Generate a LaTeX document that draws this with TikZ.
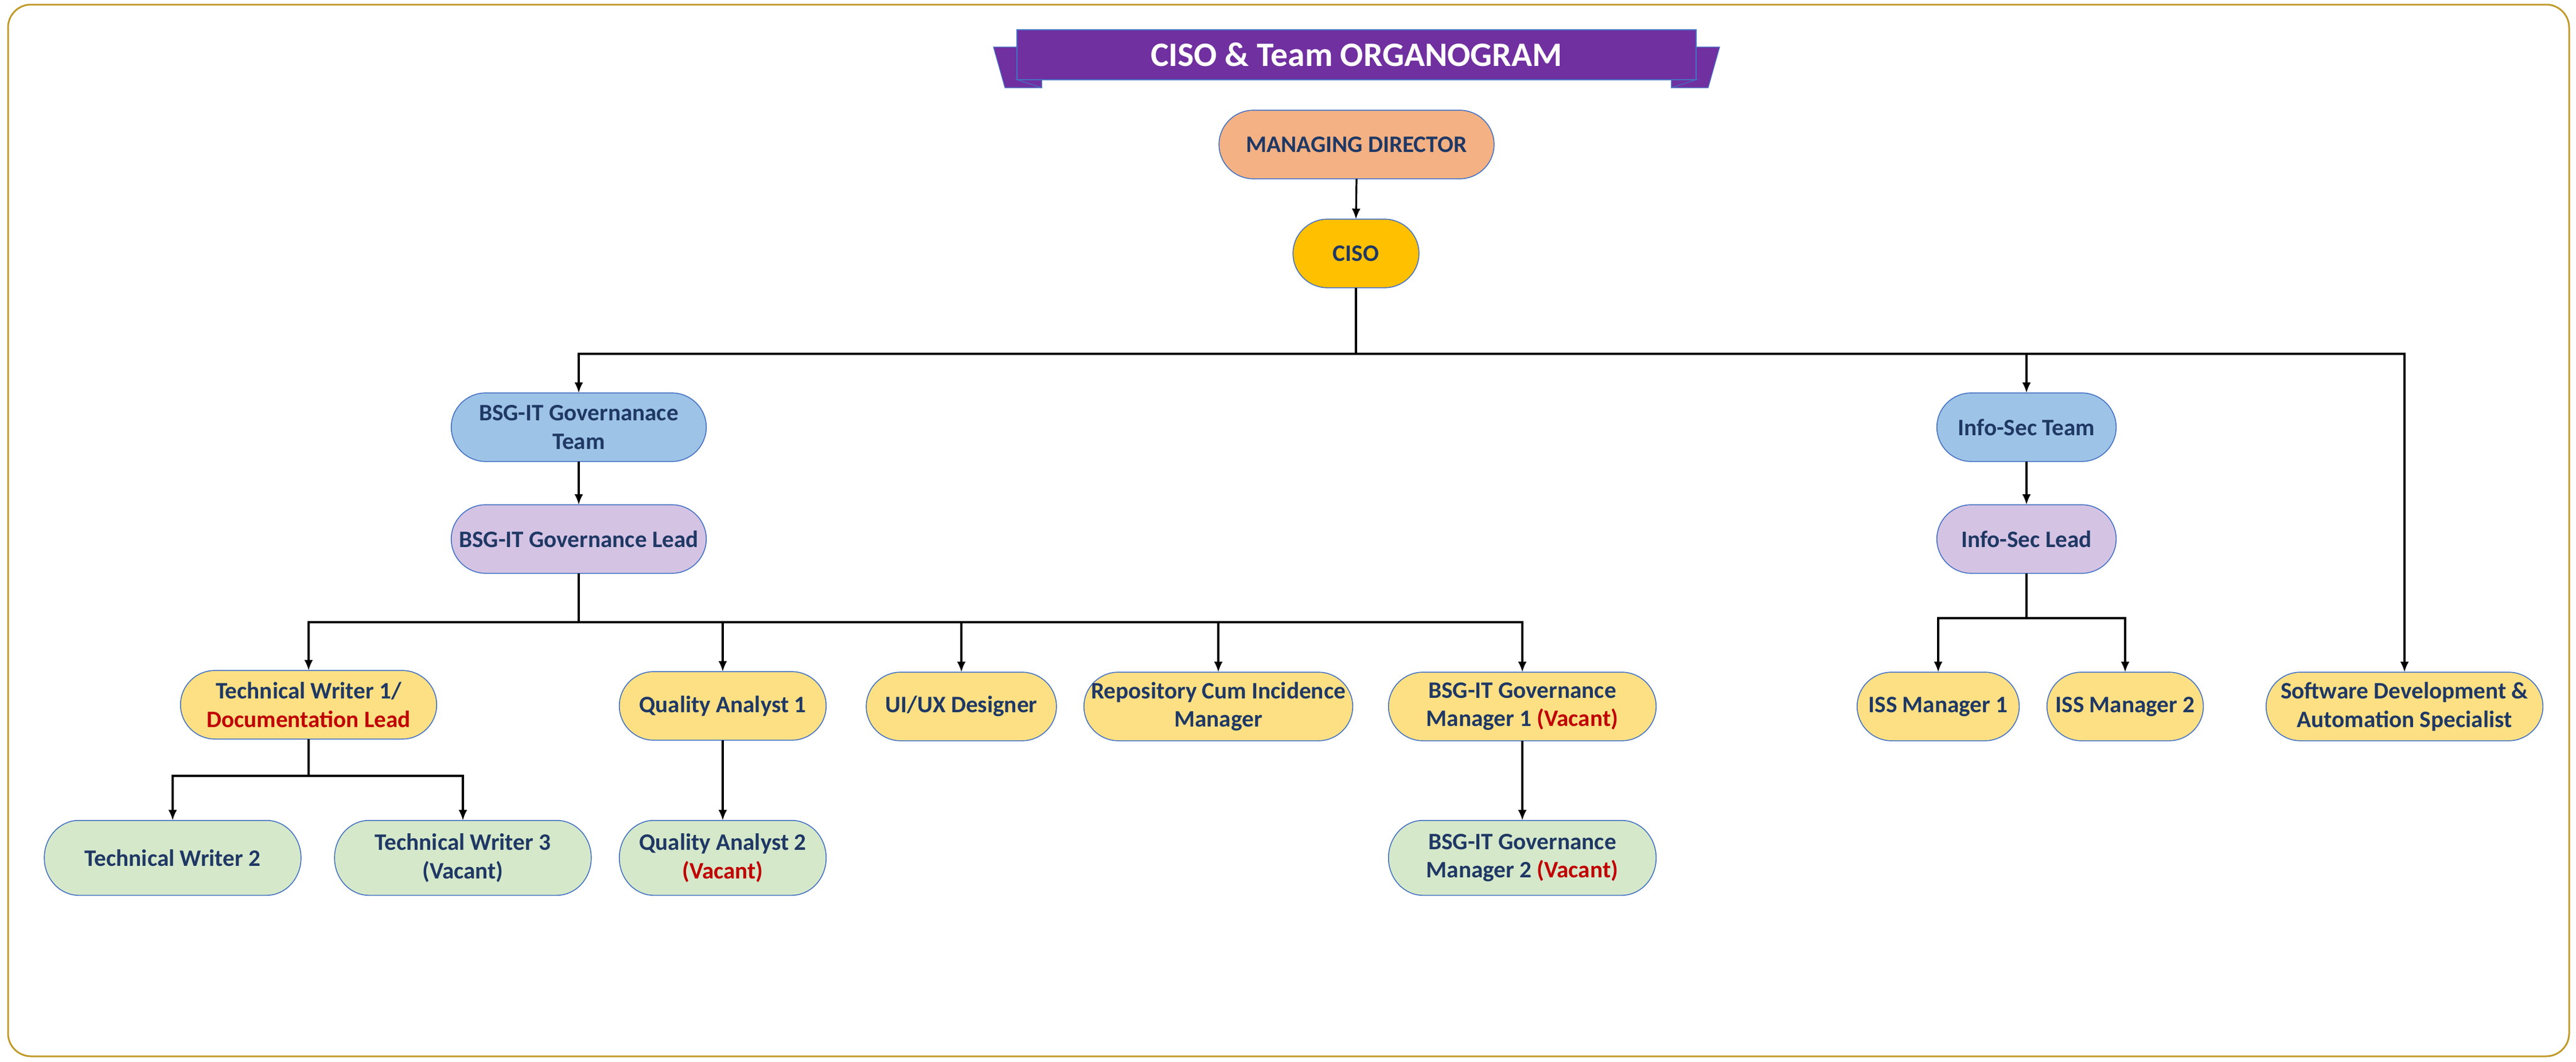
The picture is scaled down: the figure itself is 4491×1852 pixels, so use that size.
\documentclass[tikz,border=0pt]{standalone}
\usepackage{fontspec}
\setmainfont{Carlito}
\usetikzlibrary{calc,arrows.meta}
\definecolor{navy}{HTML}{1F3864}
\definecolor{vred}{HTML}{C00000}
\definecolor{pillborder}{HTML}{4472C4}
\definecolor{framegold}{HTML}{C09A2A}
\definecolor{bannerpurple}{HTML}{7030A0}
\definecolor{mdfill}{HTML}{F4B183}
\definecolor{cisofill}{HTML}{FFC000}
\definecolor{teamfill}{HTML}{9DC3E6}
\definecolor{leadfill}{HTML}{D5C3E4}
\definecolor{yelfill}{HTML}{FDE084}
\definecolor{grnfill}{HTML}{D5E8CA}
\pgfdeclarelayer{background}
\pgfsetlayers{background,main}
\newcommand\pill[2]{%
\begin{pgfonlayer}{background}
\path[draw=pillborder, line width=0.4pt, fill=#2]
 let \p1=(#1.north west), \p2=(#1.south east), \n1={0.5*(\y1-\y2)} in
 (\x1+15pt,\y1) -- (\x2-15pt,\y1)
 arc[start angle=90, end angle=-90, x radius=15pt, y radius=\n1]
 -- (\x1+15pt,\y2)
 arc[start angle=270, end angle=90, x radius=15pt, y radius=\n1] -- cycle;
\end{pgfonlayer}}
\tikzset{
 box/.style={inner sep=0pt, minimum width=#1, minimum height=29.5pt, align=center,
   text=navy, font=\fontsize{10.3}{12.4}\selectfont\bfseries},
 lowbox/.style={box=#1, minimum height=32.25pt},
 conn/.style={line width=0.8pt, black},
 arr/.style={conn, -{Latex[length=4.6pt,width=3.8pt]}},
}
\begin{document}
\begin{tikzpicture}[x=0.25pt,y=-0.25pt]
\useasboundingbox (0,0) rectangle (4491,1852);
% frame
\draw[framegold, line width=0.75pt, rounded corners=10pt] (14,8) rectangle (4479,1842);
% banner
\path[fill=bannerpurple, draw=pillborder, line width=0.3pt] (1732,82) -- (1816,82) -- (1816,153) -- (1752,153) -- cycle;
\path[fill=bannerpurple, draw=pillborder, line width=0.3pt] (2998,82) -- (2914,82) -- (2914,153) -- (2978,153) -- cycle;
\path[fill=bannerpurple, draw=pillborder, line width=0.3pt] (1773,139) -- (1816,153) -- (1816,139) -- cycle;
\path[fill=bannerpurple, draw=pillborder, line width=0.3pt] (2957,139) -- (2914,153) -- (2914,139) -- cycle;
\node[fill=bannerpurple, draw=pillborder, line width=0.3pt, minimum width=296pt, minimum height=21.75pt, inner sep=0pt,
  text=white, font=\fontsize{14.9}{17}\selectfont\bfseries] (title) at (2365,95.5) {CISO \& Team ORGANOGRAM};
% nodes
\node[box=119.5pt] (md) at (2365,252) {MANAGING DIRECTOR};
\node[box=54.5pt] (ciso) at (2364,442) {CISO};
\node[box=110.75pt] (bsgteam) at (1009,745) {BSG-IT Governanace\\Team};
\node[box=110.75pt] (bsglead) at (1009,940) {BSG-IT Governance Lead};
\node[box=77.75pt] (infoteam) at (3533,745) {Info-Sec Team};
\node[box=77.75pt] (infolead) at (3533,940) {Info-Sec Lead};
\node[box=111.25pt] (tw1) at (538,1229) {Technical Writer 1/\\\textcolor{vred}{Documentation Lead}};
\node[box=89.75pt] (qa1) at (1260,1231) {Quality Analyst 1};
\node[box=82.5pt] (uiux) at (1676,1232) {UI/UX Designer};
\node[box=116.75pt] (repo) at (2124,1232) {Repository Cum Incidence\\Manager};
\node[box=116.25pt] (mgr1) at (2654,1232) {BSG-IT Governance\\Manager 1 \textcolor{vred}{(Vacant)}};
\node[box=70.25pt] (iss1) at (3379,1232) {ISS Manager 1};
\node[box=67.75pt] (iss2) at (3705,1232) {ISS Manager 2};
\node[box=120.25pt] (sw) at (4192,1232) {Software Development \&\\Automation Specialist};
\node[lowbox=111.5pt] (tw2) at (301,1496) {Technical Writer 2};
\node[lowbox=111.5pt] (tw3) at (807,1496) {Technical Writer 3\\(Vacant)};
\node[lowbox=89.75pt] (qa2) at (1260,1496) {Quality Analyst 2\\\textcolor{vred}{(Vacant)}};
\node[lowbox=116.25pt] (mgr2) at (2654,1496) {BSG-IT Governance\\Manager 2 \textcolor{vred}{(Vacant)}};
% pills
\pill{md}{mdfill}
\pill{ciso}{cisofill}
\pill{bsgteam}{teamfill}
\pill{bsglead}{leadfill}
\pill{infoteam}{teamfill}
\pill{infolead}{leadfill}
\pill{tw1}{yelfill}
\pill{qa1}{yelfill}
\pill{uiux}{yelfill}
\pill{repo}{yelfill}
\pill{mgr1}{yelfill}
\pill{iss1}{yelfill}
\pill{iss2}{yelfill}
\pill{sw}{yelfill}
\pill{tw2}{grnfill}
\pill{tw3}{grnfill}
\pill{qa2}{grnfill}
\pill{mgr2}{grnfill}
% bus coordinates
\coordinate (b1) at (2364,617);
\coordinate (b2) at (1009,1085);
\coordinate (b3) at (538,1353);
\coordinate (b4) at (3533,1078);
% connectors
\draw[arr] (md.south) -- (ciso.north);
\draw[conn] (ciso.south) -- (b1);
\draw[arr] (b1) -| (bsgteam.north);
\draw[arr] (b1) -| (infoteam.north);
\draw[arr] (b1) -| (sw.north);
\draw[arr] (bsgteam.south) -- (bsglead.north);
\draw[arr] (infoteam.south) -- (infolead.north);
\draw[conn] (bsglead.south) -- (b2);
\draw[arr] (b2) -| (tw1.north);
\draw[arr] (b2) -| (qa1.north);
\draw[arr] (b2) -| (uiux.north);
\draw[arr] (b2) -| (repo.north);
\draw[arr] (b2) -| (mgr1.north);
\draw[conn] (tw1.south) -- (b3);
\draw[arr] (b3) -| (tw2.north);
\draw[arr] (b3) -| (tw3.north);
\draw[arr] (qa1.south) -- (qa2.north);
\draw[arr] (mgr1.south) -- (mgr2.north);
\draw[conn] (infolead.south) -- (b4);
\draw[arr] (b4) -| (iss1.north);
\draw[arr] (b4) -| (iss2.north);
\end{tikzpicture}
\end{document}
